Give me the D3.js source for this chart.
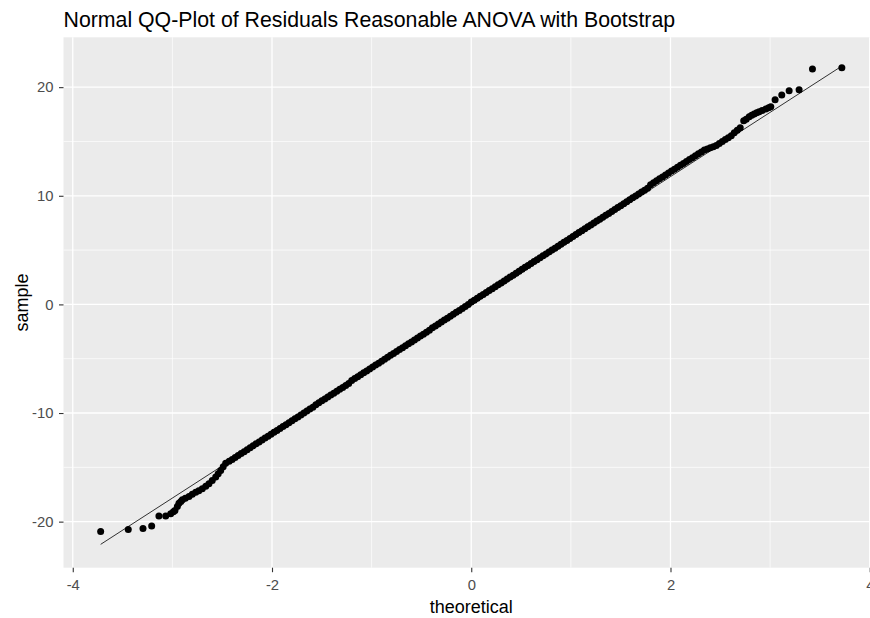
<!DOCTYPE html>
<html>
<head>
<meta charset="utf-8">
<script src="https://cdn.jsdelivr.net/npm/d3@7"></script>
<style>
  html, body { margin: 0; padding: 0; background: #fff; }
  svg { display: block; font-family: "Liberation Sans", Arial, sans-serif; }
</style>
</head>
<body>
<svg id="chart" width="870" height="618"></svg>
<script>
// ---- data ----
const chartTitle = "Normal QQ-Plot of Residuals Reasonable ANOVA with Bootstrap";
const xLabel = "theoretical";
const yLabel = "sample";

const xMajorTicks = [-4, -2, 0, 2, 4];
const xMinorTicks = [-3, -1, 1, 3];
const yMajorTicks = [-20, -10, 0, 10, 20];
const yMinorTicks = [-15, -5, 5, 15];

// lower tail points
const lowerTheoretical = [-3.72,-3.443,-3.295,-3.208,-3.135,-3.067,-3.017,-2.99,-2.974,-2.95,-2.934,-2.915,-2.90,-2.87,-2.833,-2.80,-2.766,-2.735,-2.70,-2.665,-2.633,-2.60,-2.565,-2.54,-2.515,-2.49,-2.465];
const lowerSample = [-20.90,-20.72,-20.63,-20.41,-19.49,-19.49,-19.28,-19.10,-18.97,-18.60,-18.30,-18.15,-17.99,-17.85,-17.68,-17.48,-17.29,-17.15,-16.98,-16.75,-16.51,-16.22,-15.90,-15.60,-15.29,-14.95,-14.62];

// central body of points
const midTheoretical = [-2.43,-2.40,-2.37,-2.34,-2.31,-2.28,-2.25,-2.22,-2.19,-2.16,-2.13,-2.10,-2.07,-2.04,-2.01,-1.98,-1.95,-1.92,-1.89,-1.86,-1.83,-1.80,-1.77,-1.74,-1.71,-1.68,-1.65,-1.62,-1.59,
-1.56,-1.53,-1.50,-1.47,-1.44,-1.41,-1.38,-1.35,-1.32,-1.29,-1.26,-1.23,
-1.20,-1.17,-1.14,-1.11,-1.08,-1.05,-1.02,-0.99,-0.96,-0.93,-0.90,-0.87,-0.84,-0.81,-0.78,-0.75,-0.72,-0.69,-0.66,-0.63,-0.60,-0.57,-0.54,-0.51,-0.48,-0.45,-0.42,
-0.39,-0.36,-0.33,-0.30,-0.27,-0.24,-0.21,-0.18,-0.15,-0.12,-0.09,-0.06,-0.03,
0.00,0.03,0.06,0.09,0.12,0.15,0.18,0.21,0.24,0.27,0.30,0.33,0.36,0.39,0.42,0.45,0.48,0.51,0.54,0.57,0.60,0.63,0.66,0.69,0.72,0.75,0.78,0.81,0.84,0.87,0.90,0.93,0.96,0.99,1.02,1.05,1.08,1.11,1.14,1.17,1.20,1.23,1.26,1.29,1.32,1.35,1.38,1.41,1.44,1.47,1.50,1.53,1.56,1.59,1.62,1.65,1.68,1.71,1.74,1.77,
1.80,1.83,1.86,1.89,1.92,1.95,1.98,2.01,2.04,2.07,2.10,2.13,2.16,2.19,2.22,2.25,2.28,2.31,2.34,
2.37,2.40,2.43,2.46,2.49,2.52,2.55,2.58,2.61,2.64,2.67,2.70];
const midSample = [-14.44,-14.27,-14.09,-13.91,-13.73,-13.56,-13.38,-13.20,-13.02,-12.84,-12.67,-12.49,-12.31,-12.13,-11.95,-11.78,-11.60,-11.42,-11.24,-11.07,-10.89,-10.71,-10.53,-10.36,-10.18,-10.00,-9.82,-9.64,-9.47,
-9.24,-9.06,-8.88,-8.71,-8.53,-8.35,-8.17,-7.99,-7.82,-7.64,-7.46,-7.28,
-7.01,-6.83,-6.65,-6.47,-6.29,-6.12,-5.94,-5.76,-5.58,-5.41,-5.23,-5.05,-4.87,-4.69,-4.52,-4.34,-4.16,-3.98,-3.81,-3.63,-3.45,-3.27,-3.09,-2.92,-2.74,-2.56,-2.38,
-2.16,-1.98,-1.80,-1.62,-1.44,-1.27,-1.09,-0.91,-0.73,-0.56,-0.38,-0.20,-0.02,
0.21,0.38,0.56,0.74,0.92,1.09,1.27,1.45,1.63,1.81,1.98,2.16,2.34,2.52,2.69,2.87,3.05,3.23,3.41,3.58,3.76,3.94,4.12,4.29,4.47,4.65,4.83,5.01,5.18,5.36,5.54,5.72,5.89,6.07,6.25,6.43,6.61,6.78,6.96,7.14,7.32,7.49,7.67,7.85,8.03,8.21,8.38,8.56,8.74,8.92,9.09,9.27,9.45,9.63,9.81,9.98,10.16,10.34,10.52,10.69,
11.02,11.20,11.38,11.56,11.73,11.91,12.09,12.27,12.44,12.62,12.80,12.98,13.16,13.33,13.51,13.69,13.87,14.04,14.22,
14.30,14.43,14.51,14.63,14.81,14.99,15.17,15.34,15.52,15.80,16.03,16.26];

// upper tail points
const upperTheoretical = [2.735,2.76,2.79,2.815,2.84,2.865,2.89,2.92,2.957,2.985,3.007,3.05,3.117,3.191,3.291,3.425,3.72];
const upperSample = [16.90,17.05,17.28,17.42,17.53,17.64,17.74,17.86,17.98,18.10,18.20,18.84,19.27,19.67,19.76,21.67,21.78];

// reference (qq) line end points
const lineTheoretical = [-3.72, 3.72];
const lineSample = [-22.09, 21.94];

// ---- drawing ----
const svg = d3.select("#chart");
const W = 870, H = 618;
const panel = { left: 63.5, right: 879.0, top: 37.3, bottom: 567.7 };

const x = d3.scaleLinear().domain([-4.093, 4.093]).range([panel.left, panel.right]);
const y = d3.scaleLinear().domain([-24.24, 24.59]).range([panel.bottom, panel.top]);

svg.append("rect").attr("width", W).attr("height", H).attr("fill", "#ffffff");

svg.append("rect")
  .attr("x", panel.left).attr("y", panel.top)
  .attr("width", panel.right - panel.left).attr("height", panel.bottom - panel.top)
  .attr("fill", "#EBEBEB");

const grid = svg.append("g");
grid.selectAll(".xminor").data(xMinorTicks).join("line")
  .attr("x1", d => x(d)).attr("x2", d => x(d))
  .attr("y1", panel.top).attr("y2", panel.bottom)
  .attr("stroke", "#fff").attr("stroke-width", 0.7);
grid.selectAll(".yminor").data(yMinorTicks).join("line")
  .attr("y1", d => y(d)).attr("y2", d => y(d))
  .attr("x1", panel.left).attr("x2", panel.right)
  .attr("stroke", "#fff").attr("stroke-width", 0.7);
grid.selectAll(".xmajor").data(xMajorTicks).join("line")
  .attr("x1", d => x(d)).attr("x2", d => x(d))
  .attr("y1", panel.top).attr("y2", panel.bottom)
  .attr("stroke", "#fff").attr("stroke-width", 1.3);
grid.selectAll(".ymajor").data(yMajorTicks).join("line")
  .attr("y1", d => y(d)).attr("y2", d => y(d))
  .attr("x1", panel.left).attr("x2", panel.right)
  .attr("stroke", "#fff").attr("stroke-width", 1.3);

// points
const points = [];
lowerTheoretical.forEach((t, i) => points.push([t, lowerSample[i]]));
midTheoretical.forEach((t, i) => points.push([t, midSample[i]]));
upperTheoretical.forEach((t, i) => points.push([t, upperSample[i]]));

svg.append("g").selectAll("circle").data(points).join("circle")
  .attr("cx", d => x(d[0])).attr("cy", d => y(d[1]))
  .attr("r", 3.5).attr("fill", "#000");

// qq line
svg.append("line")
  .attr("x1", x(lineTheoretical[0])).attr("y1", y(lineSample[0]))
  .attr("x2", x(lineTheoretical[1])).attr("y2", y(lineSample[1]))
  .attr("stroke", "#000").attr("stroke-width", 0.8);

// axes
const xAxis = svg.append("g")
  .attr("transform", `translate(0,${panel.bottom})`)
  .call(d3.axisBottom(x).tickValues(xMajorTicks).tickSize(4.5).tickPadding(7).tickFormat(d3.format("d")));
const yAxis = svg.append("g")
  .attr("transform", `translate(${panel.left},0)`)
  .call(d3.axisLeft(y).tickValues(yMajorTicks).tickSize(4.5).tickPadding(5.5).tickFormat(d3.format("d")));

[xAxis, yAxis].forEach(a => {
  a.select(".domain").remove();
  a.selectAll(".tick line").attr("stroke", "#333333").attr("stroke-width", 1.1);
  a.selectAll(".tick text")
    .attr("fill", "#4D4D4D")
    .style("font-family", '"Liberation Sans", Arial, sans-serif')
    .style("font-size", "14.8px");
});
// use ASCII hyphen-minus like the reference
xAxis.selectAll(".tick text").text(d => String(d).replace("\u2212", "-"));
yAxis.selectAll(".tick text").text(d => String(d).replace("\u2212", "-"));

// titles
svg.append("text")
  .attr("x", panel.left).attr("y", 27)
  .attr("fill", "#000")
  .style("font-size", "21.3px")
  .text(chartTitle);

svg.append("text")
  .attr("x", (panel.left + panel.right) / 2).attr("y", 613)
  .attr("text-anchor", "middle")
  .attr("fill", "#000")
  .style("font-size", "18px")
  .text(xLabel);

svg.append("text")
  .attr("transform", `translate(28,${(panel.top + panel.bottom) / 2}) rotate(-90)`)
  .attr("text-anchor", "middle")
  .attr("fill", "#000")
  .style("font-size", "18px")
  .text(yLabel);
</script>
</body>
</html>
